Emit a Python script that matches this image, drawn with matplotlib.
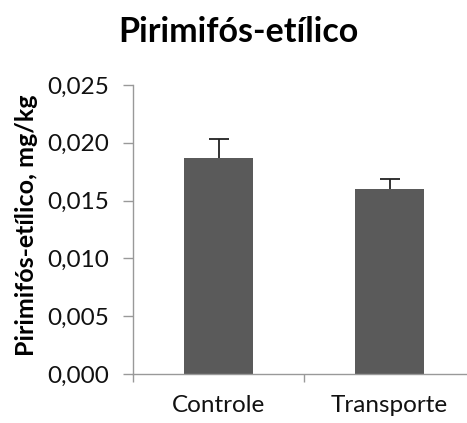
import matplotlib
matplotlib.use("Agg")
import matplotlib.pyplot as plt

categories = ["Controle", "Transporte"]
values = [0.01866, 0.01598]
errors = [0.00165, 0.00086]
yticks = [0.000, 0.005, 0.010, 0.015, 0.020, 0.025]
ytick_labels = ["0,000", "0,005", "0,010", "0,015", "0,020", "0,025"]

plt.rcParams['font.family'] = ['Lato', 'DejaVu Sans']

fig = plt.figure(figsize=(4.67, 4.23), dpi=100)
ax = fig.add_axes([133/467, 49/423, (475-133)/467, (374-85)/423])

x = list(range(len(categories)))
ax.bar(x, values, width=0.4, color="#5a5a5a", zorder=3)
ax.errorbar(x, values, yerr=errors, fmt="none",
            ecolor="#222222", elinewidth=1.3, capsize=7, capthick=1.3, zorder=2)

ax.set_xlim(-0.5, 1.5)
ax.set_ylim(0, 0.025)
ax.set_yticks(yticks)
ax.set_yticklabels(ytick_labels, fontsize=17.5, color="#111111")
ax.set_xticks(x)
ax.set_xticklabels(categories, fontsize=17.5, color="#111111")
ax.set_xticks([-0.5, 0.5, 1.5], minor=True)
ax.tick_params(axis='x', which='major', length=0, pad=15)
ax.tick_params(axis='x', which='minor', length=6, color="#999999", width=1)
ax.tick_params(axis='y', length=7, color="#999999", width=1, pad=10)

for s in ["top", "right"]:
    ax.spines[s].set_visible(False)
for s in ["left", "bottom"]:
    ax.spines[s].set_color("#999999")
    ax.spines[s].set_linewidth(1)
    ax.spines[s].set_zorder(4)

fig.text(27/467, 1 - 225/423, "Pirimifós-etílico, mg/kg", fontsize=18, fontweight="bold",
         rotation=90, ha="center", va="center")
fig.text(238/467, 1 - 32/423, "Pirimifós-etílico", fontsize=24.5, fontweight="bold",
         ha="center", va="center")

fig.savefig("out.png", dpi=100)
